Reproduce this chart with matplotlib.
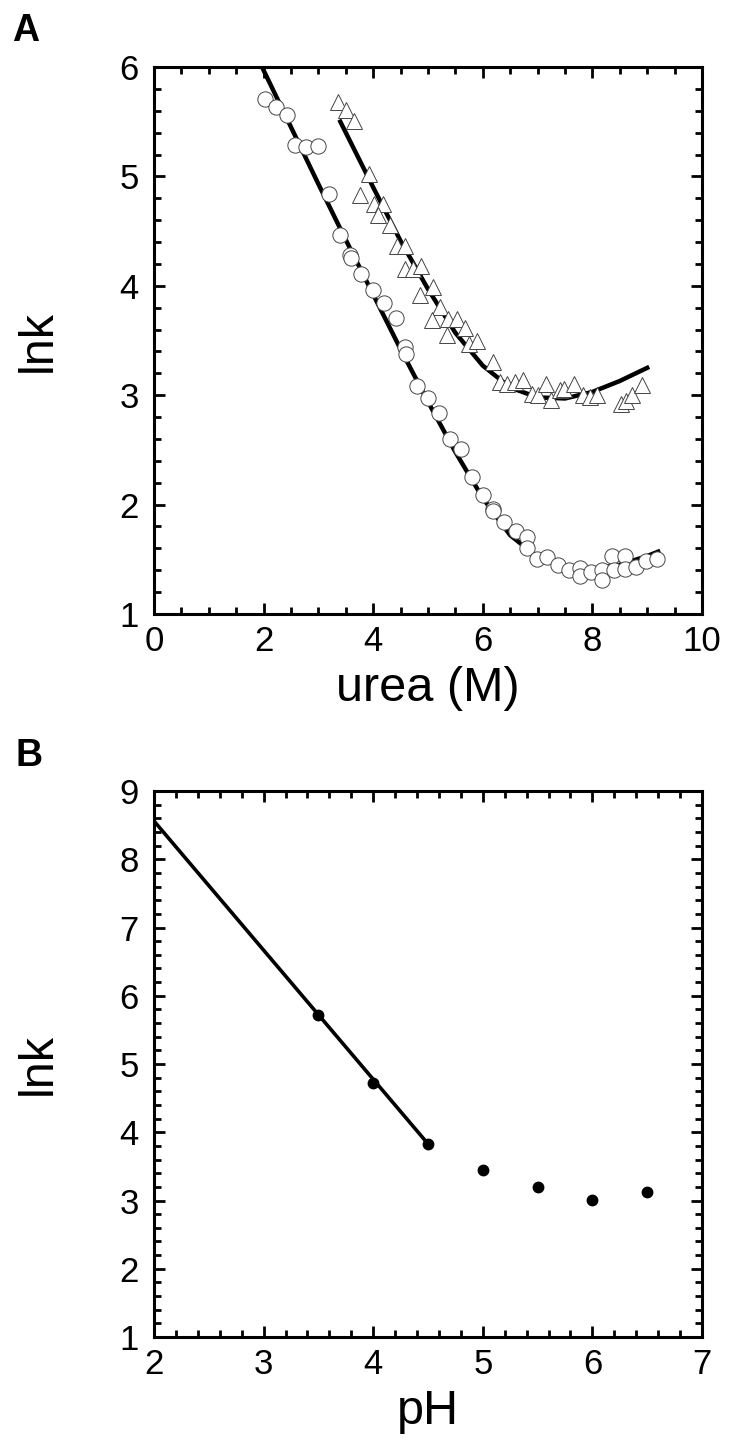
import numpy as np
import matplotlib
matplotlib.use('Agg')
import matplotlib.pyplot as plt
from matplotlib.ticker import MultipleLocator

plt.rcParams['font.family'] = ['Liberation Sans', 'DejaVu Sans']

# panel A - circles
urea_c = [2.02, 2.22, 2.42, 2.58, 2.78, 3.0, 3.2, 3.4, 3.58, 3.6, 3.78, 4.0, 4.2, 4.42,
          4.58, 4.6, 4.8, 5.0, 5.2, 5.4, 5.6, 5.8, 6.0, 6.18, 6.18, 6.38, 6.6, 6.8, 6.8,
          6.98, 7.18, 7.38, 7.58, 7.78, 7.78, 7.98, 8.18, 8.18, 8.36, 8.4, 8.6, 8.6, 8.8,
          8.98, 9.18]
lnk_c = [5.71, 5.63, 5.56, 5.29, 5.27, 5.28, 4.84, 4.46, 4.28, 4.25, 4.11, 3.96, 3.84, 3.71,
         3.44, 3.38, 3.08, 2.97, 2.84, 2.60, 2.51, 2.25, 2.09, 1.96, 1.94, 1.84, 1.76, 1.70, 1.60,
         1.50, 1.52, 1.45, 1.40, 1.42, 1.35, 1.38, 1.40, 1.31, 1.53, 1.40, 1.53, 1.41, 1.43,
         1.48, 1.50]
fit_c_x = [2.0, 2.5, 3.0, 3.5, 4.0, 4.5, 5.0, 5.5, 6.0, 6.5, 7.0, 7.5, 8.0, 8.5, 9.0, 9.2]
fit_c_y = [5.97, 5.45, 4.93, 4.42, 3.92, 3.42, 2.94, 2.48, 2.06, 1.72, 1.52, 1.43, 1.41, 1.45, 1.53, 1.57]

# panel A - triangles
urea_t = [3.36, 3.51, 3.65, 3.93, 3.76, 4.02, 4.18, 4.09, 4.31, 4.44, 4.58, 4.58, 4.73, 4.87,
          4.85, 5.09, 5.22, 5.07, 5.36, 5.53, 5.35, 5.67, 5.75, 5.89, 6.18, 6.31, 6.45, 6.58,
          6.73, 6.89, 7.0, 7.16, 7.25, 7.4, 7.49, 7.67, 7.82, 7.95, 8.09, 8.53, 8.62, 8.73, 8.91]
lnk_t = [5.68, 5.61, 5.51, 5.02, 4.83, 4.75, 4.75, 4.65, 4.56, 4.36, 4.36, 4.15, 4.15, 4.18,
         3.92, 3.99, 3.81, 3.69, 3.70, 3.70, 3.55, 3.61, 3.47, 3.50, 3.30, 3.12, 3.10, 3.12,
         3.14, 3.01, 3.00, 3.10, 2.96, 3.05, 3.06, 3.10, 3.00, 2.98, 3.00, 2.92, 2.95, 3.00, 3.09]
fit_t_x = [3.4, 4.0, 4.5, 5.0, 5.5, 6.0, 6.5, 7.0, 7.5, 8.0, 8.5, 9.0]
fit_t_y = [5.50, 4.90, 4.41, 3.97, 3.57, 3.27, 3.07, 2.98, 2.97, 3.03, 3.13, 3.25]

# panel B
ph = [3.5, 4.0, 4.5, 5.0, 5.5, 6.0, 6.5]
lnk_ph = [5.72, 4.72, 3.83, 3.44, 3.20, 3.01, 3.12]
fit_ph_x = [2.0, 4.5]
fit_ph_y = [8.56, 3.83]

fig = plt.figure(figsize=(7.3, 14.46), dpi=100)
axA = fig.add_axes([154 / 730, 1 - 614 / 1446, 548 / 730, 547 / 1446])
axB = fig.add_axes([154 / 730, 1 - 1337 / 1446, 548 / 730, 546 / 1446])


def style(ax):
    for s in ax.spines.values():
        s.set_linewidth(2.2)
    ax.tick_params(which='both', direction='in', top=True, right=True, width=2, labelsize=25)
    ax.tick_params(which='major', length=8)
    ax.tick_params(which='minor', length=5)
    ax.tick_params(axis='y', pad=11)
    ax.tick_params(axis='x', pad=8)


axA.plot(fit_c_x, fit_c_y, color='black', lw=3.2, zorder=2)
axA.plot(fit_t_x, fit_t_y, color='black', lw=3.2, zorder=2)
axA.plot(urea_c, lnk_c, 'o', ms=11, mfc='white', mec='#444444', mew=0.7, zorder=3)
axA.plot(urea_t, lnk_t, '^', ms=12, mfc='white', mec='#444444', mew=0.7, zorder=3)
axA.set_xlim(0, 10)
axA.set_ylim(1, 6)
axA.xaxis.set_major_locator(MultipleLocator(2))
axA.xaxis.set_minor_locator(MultipleLocator(0.5))
axA.yaxis.set_major_locator(MultipleLocator(1))
axA.yaxis.set_minor_locator(MultipleLocator(0.2))
axA.set_xlabel('urea (M)', fontsize=35, labelpad=6)
axA.set_ylabel('lnk', fontsize=35, labelpad=42)
style(axA)

axB.plot(fit_ph_x, fit_ph_y, color='black', lw=2.6, zorder=2)
axB.plot(ph, lnk_ph, 'o', ms=7.5, color='black', zorder=3)
axB.set_xlim(2, 7)
axB.set_ylim(1, 9)
axB.xaxis.set_major_locator(MultipleLocator(1))
axB.xaxis.set_minor_locator(MultipleLocator(0.2))
axB.yaxis.set_major_locator(MultipleLocator(1))
axB.yaxis.set_minor_locator(MultipleLocator(0.2))
axB.set_xlabel('pH', fontsize=35, labelpad=6)
axB.set_ylabel('lnk', fontsize=35, labelpad=42)
style(axB)

fig.text(12 / 730, 1 - 41 / 1446, 'A', fontsize=27, fontweight='bold')
fig.text(15 / 730, 1 - 766 / 1446, 'B', fontsize=27, fontweight='bold')

fig.savefig('out.png', dpi=100)
